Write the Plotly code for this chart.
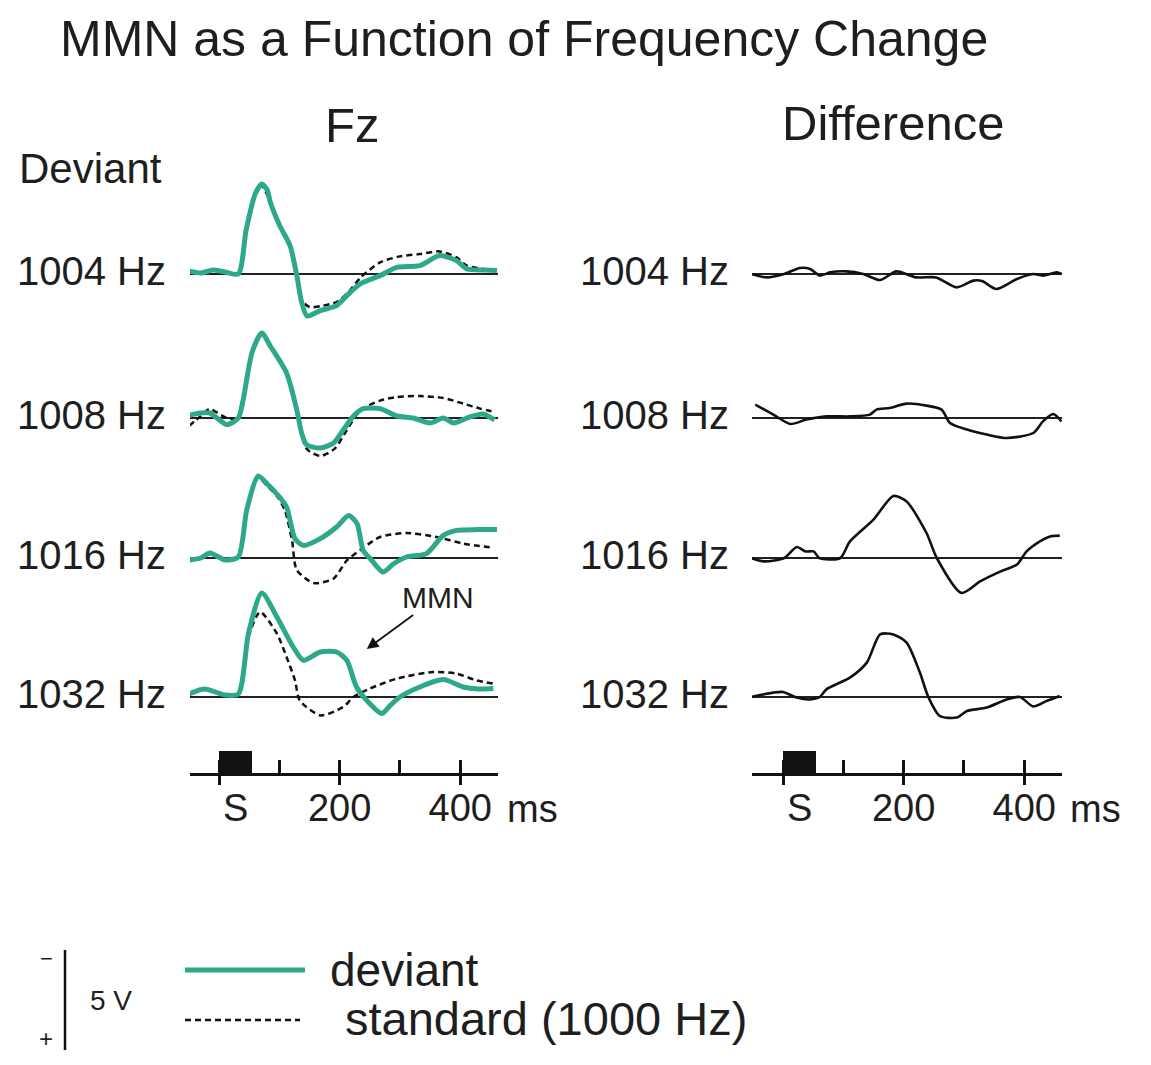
import plotly.graph_objects as go

# ---------------- data (amplitudes in microvolts, negative plotted upward) ----------------
row_labels = ["1004 Hz", "1008 Hz", "1016 Hz", "1032 Hz"]
col_titles = ["Fz", "Difference"]
minor_ticks = [0, 100, 200, 300, 400]
major_ticks = [0, 200, 400]
tick_text = ["S", "200", "400"]
stim_on, stim_off = 0, 55
scale_uv = 5

# deviant, Fz
dev_t_1004 = [-50, -30, -10, 10, 32, 45, 60, 71, 80, 85, 101, 118, 129, 137, 146, 168, 195, 212, 234, 267, 295, 333, 366, 394, 411, 440, 461]
dev_v_1004 = [-0.15, -0.05, -0.2, -0.1, 0.0, -2.2, -4.0, -4.5, -4.2, -3.6, -2.4, -1.4, 0.08, 1.4, 2.1, 1.83, 1.58, 1.08, 0.5, 0.08, -0.33, -0.42, -0.92, -0.67, -0.25, -0.2, -0.17]
dev_t_1008 = [-50, -31, -15, 13, 32, 40, 55, 71, 85, 112, 129, 137, 145, 168, 190, 206, 223, 239, 267, 295, 322, 350, 372, 389, 416, 438, 457]
dev_v_1008 = [-0.13, -0.25, -0.25, 0.33, 0.0, -0.9, -3.3, -4.25, -3.6, -2.25, -0.4, 0.75, 1.33, 1.5, 1.25, 0.6, -0.1, -0.47, -0.47, -0.1, 0.0, 0.25, 0.0, 0.25, -0.05, -0.2, 0.1]
dev_t_1016 = [-50, -30, -15, 10, 32, 46, 65, 80, 96, 112, 126, 140, 168, 195, 215, 229, 239, 250, 272, 289, 311, 344, 372, 394, 430, 461]
dev_v_1016 = [0.1, 0.0, -0.25, 0.1, -0.05, -2.4, -4.1, -3.7, -3.2, -2.55, -0.97, -0.63, -0.97, -1.55, -2.13, -1.72, -0.38, 0.0, 0.7, 0.3, -0.05, -0.22, -1.13, -1.38, -1.42, -1.42]
dev_t_1032 = [-50, -24, 10, 32, 49, 71, 96, 123, 140, 168, 195, 212, 228, 245, 270, 284, 300, 333, 372, 405, 430, 455]
dev_v_1032 = [-0.15, -0.4, -0.1, -0.15, -3.2, -5.2, -4.0, -2.5, -1.83, -2.25, -2.25, -1.83, -0.5, 0.17, 0.83, 0.42, 0.0, -0.5, -0.87, -0.5, -0.4, -0.42]

# standard (1000 Hz), Fz
std_t_1004 = [-50, -30, -10, 10, 32, 45, 60, 71, 85, 101, 118, 129, 137, 150, 170, 195, 215, 234, 267, 300, 333, 366, 394, 411, 461]
std_v_1004 = [-0.15, -0.05, -0.2, -0.1, 0.0, -2.2, -4.0, -4.4, -3.6, -2.4, -1.4, 0.08, 1.3, 1.65, 1.6, 1.4, 0.9, 0.2, -0.58, -0.88, -1.0, -1.13, -0.83, -0.42, -0.17]
std_t_1008 = [-50, -30, -16, 13, 32, 40, 55, 71, 85, 112, 129, 145, 168, 192, 212, 234, 267, 295, 333, 372, 405, 433, 458]
std_v_1008 = [0.4, -0.1, -0.45, 0.0, 0.0, -0.9, -3.3, -4.2, -3.6, -2.3, -0.4, 1.53, 1.9, 1.53, 0.6, -0.37, -0.87, -1.05, -1.1, -1.0, -0.72, -0.47, -0.3]
std_t_1016 = [-50, -30, -15, 10, 32, 46, 65, 80, 96, 109, 121, 129, 157, 190, 212, 239, 267, 311, 361, 405, 455]
std_v_1016 = [0.1, 0.0, -0.25, 0.1, -0.05, -2.4, -4.0, -3.6, -3.1, -2.4, -0.9, 0.6, 1.25, 1.03, 0.12, -0.5, -1.05, -1.25, -1.05, -0.72, -0.52]
std_t_1032 = [-50, -24, 10, 32, 49, 68, 96, 112, 126, 134, 168, 206, 223, 250, 295, 355, 394, 427, 455]
std_v_1032 = [-0.15, -0.4, -0.1, -0.15, -3.0, -4.25, -3.17, -2.0, -0.83, 0.17, 0.92, 0.5, 0.0, -0.42, -0.92, -1.25, -1.17, -0.83, -0.67]

# difference wave (deviant - standard)
dif_t_1004 = [-53, -27, 2, 28, 45, 61, 78, 105, 133, 161, 188, 221, 254, 288, 316, 330, 354, 388, 415, 431, 454, 462]
dif_v_1004 = [0.0, 0.17, 0.0, -0.3, -0.25, 0.08, -0.08, -0.13, 0.0, 0.3, -0.13, 0.17, 0.17, 0.67, 0.33, 0.35, 0.75, 0.25, 0.0, 0.08, -0.08, 0.0]
dif_t_1008 = [-46, -16, 12, 39, 72, 111, 144, 155, 177, 205, 238, 263, 277, 305, 338, 371, 415, 431, 448, 462]
dif_v_1008 = [-0.67, -0.17, 0.3, 0.08, -0.08, -0.08, -0.17, -0.42, -0.5, -0.72, -0.62, -0.42, 0.25, 0.58, 0.83, 1.0, 0.75, 0.17, -0.2, 0.17]
dif_t_1016 = [-53, -31, 2, 23, 37, 51, 60, 95, 111, 150, 183, 205, 238, 255, 296, 327, 361, 388, 404, 426, 443, 459]
dif_v_1016 = [0.0, 0.17, 0.0, -0.55, -0.33, -0.33, 0.0, 0.0, -0.83, -1.92, -3.1, -2.83, -1.25, 0.0, 1.75, 1.17, 0.67, 0.33, -0.33, -0.83, -1.08, -1.12]
dif_t_1032 = [-53, -16, 0, 23, 45, 61, 72, 111, 139, 161, 183, 205, 227, 241, 260, 288, 305, 338, 371, 393, 415, 437, 459]
dif_v_1032 = [0.0, -0.22, -0.25, 0.03, 0.12, 0.0, -0.38, -0.97, -1.72, -3.13, -3.13, -2.72, -1.22, 0.0, 0.95, 1.03, 0.7, 0.53, 0.12, 0.0, 0.47, 0.2, -0.05]

dev_t = [dev_t_1004, dev_t_1008, dev_t_1016, dev_t_1032]
dev_v = [dev_v_1004, dev_v_1008, dev_v_1016, dev_v_1032]
std_t = [std_t_1004, std_t_1008, std_t_1016, std_t_1032]
std_v = [std_v_1004, std_v_1008, std_v_1016, std_v_1032]
dif_t = [dif_t_1004, dif_t_1008, dif_t_1016, dif_t_1032]
dif_v = [dif_v_1004, dif_v_1008, dif_v_1016, dif_v_1032]

# ---------------- layout geometry ----------------
PAGE_OFF = 8                      # default page margin around the plot div
W, H = 1151 - PAGE_OFF, 1065 - PAGE_OFF
FONT = "Liberation Sans, Arial, Helvetica, sans-serif"
TXT = "#1e1e1e"
TEAL = "#2EA88B"
PX_PER_UV = 20.0
PX_PER_MS = 0.603
ROW_BASE = [274, 418, 558, 697]
ABOVE, BELOW = 120, 60
AXIS_Y = 773
STRIP_TOP = 751
LEFT = dict(x0=190, x1=498, zero=219)
RIGHT = dict(x0=752, x1=1062, zero=783)


def fx(px):
    return (px - PAGE_OFF) / W


def fy(py):
    return 1 - (py - PAGE_OFF) / H


def xrange_for(col):
    return [(col["x0"] - col["zero"]) / PX_PER_MS, (col["x1"] - col["zero"]) / PX_PER_MS]


fig = go.Figure()
smooth = dict(shape="spline", smoothing=0.7)

for r in range(4):
    yl = "y" if r == 0 else f"y{r + 1}"
    yr = f"y{r + 5}"
    fig.add_trace(go.Scatter(x=std_t[r], y=std_v[r], xaxis="x", yaxis=yl, mode="lines",
                             line=dict(color="#111111", width=2.5, dash="6px,4px", **smooth),
                             showlegend=False, hoverinfo="skip"))
    fig.add_trace(go.Scatter(x=dev_t[r], y=dev_v[r], xaxis="x", yaxis=yl, mode="lines",
                             line=dict(color=TEAL, width=5, **smooth),
                             showlegend=False, hoverinfo="skip"))
    fig.add_trace(go.Scatter(x=dif_t[r], y=dif_v[r], xaxis="x2", yaxis=yr, mode="lines",
                             line=dict(color="#111111", width=2.6, **smooth),
                             showlegend=False, hoverinfo="skip"))

# stimulus bars on the time-axis strips
for xa, ya in (("x3", "y9"), ("x6", "y10")):
    fig.add_trace(go.Bar(x=[(stim_on + stim_off) / 2], y=[1], width=[stim_off - stim_on],
                         base=[0], xaxis=xa, yaxis=ya, marker=dict(color="#111111", line=dict(width=0)),
                         showlegend=False, hoverinfo="skip"))
for xa, ya in (("x4", "y9"), ("x5", "y9"), ("x7", "y10"), ("x8", "y10")):
    fig.add_trace(go.Scatter(x=[None], y=[None], xaxis=xa, yaxis=ya, mode="lines",
                             showlegend=False, hoverinfo="skip"))

layout = dict(
    width=W, height=H, margin=dict(l=0, r=0, t=0, b=0),
    paper_bgcolor="white", plot_bgcolor="rgba(0,0,0,0)",
    font=dict(family=FONT, color=TXT), showlegend=False, bargap=0,
)

hidden_x = dict(visible=False, showgrid=False, zeroline=False)
layout["xaxis"] = dict(domain=[fx(LEFT["x0"]), fx(LEFT["x1"])], range=xrange_for(LEFT), anchor="y", **hidden_x)
layout["xaxis2"] = dict(domain=[fx(RIGHT["x0"]), fx(RIGHT["x1"])], range=xrange_for(RIGHT), anchor="y5", **hidden_x)

for r in range(4):
    base = ROW_BASE[r]
    dom = [fy(base + BELOW), fy(base - ABOVE)]
    rng = [BELOW / PX_PER_UV, -ABOVE / PX_PER_UV]  # negative up
    common = dict(domain=dom, range=rng, showgrid=False, showticklabels=False, showline=False,
                  ticks="", zeroline=True, zerolinecolor="#222222", zerolinewidth=2.4)
    layout["yaxis" if r == 0 else f"yaxis{r + 1}"] = dict(anchor="x", **common)
    layout[f"yaxis{r + 5}"] = dict(anchor="x2", **common)

strip_dom = [fy(AXIS_Y), fy(STRIP_TOP)]
for ya, xa in (("yaxis9", "x3"), ("yaxis10", "x6")):
    layout[ya] = dict(domain=strip_dom, range=[0, 1], visible=False, anchor=xa)

for col, (a, b, c), ya in ((LEFT, ("3", "4", "5"), "y9"), (RIGHT, ("6", "7", "8"), "y10")):
    dom = [fx(col["x0"]), fx(col["x1"])]
    rng = xrange_for(col)
    layout[f"xaxis{a}"] = dict(domain=dom, range=rng, anchor=ya, showline=True, linecolor="#111111",
                               linewidth=2.5, ticks="inside", tickvals=minor_ticks, ticklen=13,
                               tickwidth=2.5, tickcolor="#111111", showticklabels=False,
                               showgrid=False, zeroline=False)
    layout[f"xaxis{b}"] = dict(domain=dom, range=rng, anchor=ya, overlaying=f"x{a}", showline=False,
                               ticks="outside", tickvals=major_ticks, ticklen=11, tickwidth=2.5,
                               tickcolor="#111111", showticklabels=False, showgrid=False, zeroline=False)
    layout[f"xaxis{c}"] = dict(domain=dom, range=rng, anchor=ya, overlaying=f"x{a}", showline=False,
                               ticks="outside", ticklen=1, tickcolor="rgba(0,0,0,0)",
                               tickvals=[(stim_on + stim_off) / 2, major_ticks[1], major_ticks[2]],
                               ticktext=tick_text, tickfont=dict(size=38, color=TXT),
                               showgrid=False, zeroline=False)

ann = []


def text(s, x, y, size, xanchor="center", yanchor="middle", **kw):
    d = dict(text=s, x=fx(x), y=fy(y), xref="paper", yref="paper", showarrow=False,
             xanchor=xanchor, yanchor=yanchor, font=dict(size=size, color=TXT, family=FONT))
    d.update(kw)
    ann.append(d)


text("MMN as a Function of Frequency Change", 524, 39, 50)
text(col_titles[0], 352, 125, 49)
text(col_titles[1], 893, 123, 49)
text("Deviant", 17, 168, 42, xanchor="left")
for r in range(4):
    yl = "y" if r == 0 else f"y{r + 1}"
    for xpx, yax in ((168, yl), (731, f"y{r + 5}")):
        ann.append(dict(text=row_labels[r], x=fx(xpx), xref="paper", xanchor="right",
                        y=0, yref=yax, yanchor="middle", yshift=3, showarrow=False,
                        font=dict(size=40, color=TXT, family=FONT)))
text("ms", 505, 809, 38, xanchor="left")
text("ms", 1068, 809, 38, xanchor="left")

# MMN arrow pointing at the 1032 Hz deviant
ann.append(dict(text="MMN", x=245, y=-2.4, xref="x", yref="y4", ax=71, ay=-52,
                axref="pixel", ayref="pixel", showarrow=True, arrowhead=2, arrowsize=1.3,
                arrowwidth=1.8, arrowcolor="#111111", standoff=0,
                font=dict(size=30, color=TXT, family=FONT)))

# legend
text("deviant", 328, 970, 46, xanchor="left")
text("standard (1000 Hz)", 343, 1018, 47, xanchor="left")
text("5 V", 88, 1001, 28, xanchor="left")
text("\u2212", 46, 958, 22)
text("+", 46, 1038, 24)
layout["annotations"] = ann

bar_top = 950
layout["shapes"] = [
    dict(type="line", xref="paper", yref="paper", x0=fx(185), x1=fx(305), y0=fy(970), y1=fy(970),
         line=dict(color=TEAL, width=5)),
    dict(type="line", xref="paper", yref="paper", x0=fx(185), x1=fx(300), y0=fy(1020), y1=fy(1020),
         line=dict(color="#111111", width=2.5, dash="6px,4px")),
    dict(type="line", xref="paper", yref="paper", x0=fx(65), x1=fx(65), y0=fy(bar_top),
         y1=fy(bar_top + scale_uv * PX_PER_UV), line=dict(color="#111111", width=2.5)),
]

fig.update_layout(**layout)
fig.write_html("out.html")
